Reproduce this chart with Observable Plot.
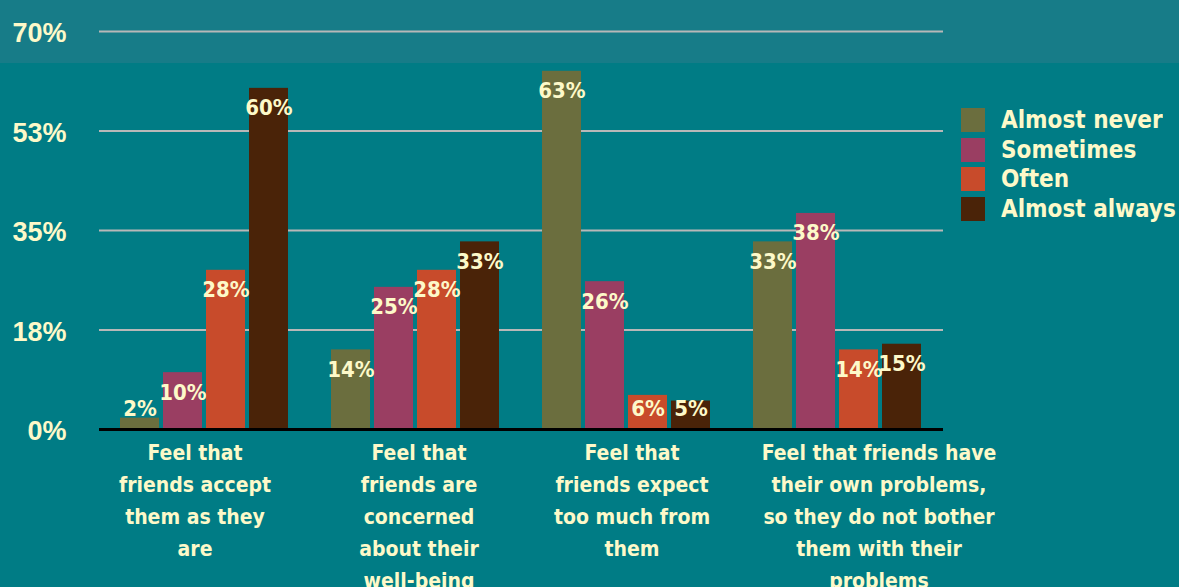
<!DOCTYPE html>
<html><head><meta charset="utf-8">
<script src="https://cdn.jsdelivr.net/npm/d3@7"></script>
<script src="https://cdn.jsdelivr.net/npm/@observablehq/plot@0.6"></script>
<style>
html,body{margin:0;padding:0;}
body{width:1179px;height:587px;overflow:hidden;background:linear-gradient(#177c88 0,#177c88 63px,#007c85 63px);position:relative;}
#chart{position:absolute;left:0;top:0;}
#legend{position:absolute;left:961px;top:105px;}
#legend *{font-family:"DejaVu Sans Condensed","DejaVu Sans",sans-serif !important;font-stretch:condensed;font-weight:bold !important;font-size:24px !important;color:#fdf9c9 !important;}
#legend .lg-swatch{height:29.7px;padding-bottom:0 !important;margin:0 !important;display:flex;align-items:center;}
#legend .lg-swatch svg{margin-right:16px !important;}
#legend > div{margin:0 !important;columns:auto !important;}
</style></head><body><div id="chart"></div><div id="legend"></div>
<script>
const categories = [
  "Feel that\nfriends accept\nthem as they\nare",
  "Feel that\nfriends are\nconcerned\nabout their\nwell-being",
  "Feel that\nfriends expect\ntoo much from\nthem",
  "Feel that friends have\ntheir own problems,\nso they do not bother\nthem with their\nproblems"
];
const series = ["Almost never", "Sometimes", "Often", "Almost always"];
const almostNever = [2, 14, 63, 33];
const sometimes = [10, 25, 26, 38];
const often = [28, 28, 6, 14];
const almostAlways = [60, 33, 5, 15];
const colors = ["#6b6e3e", "#9a3e62", "#c84b2b", "#4a2308"];
const yTicks = [0, 17.5, 35, 52.5, 70];

const seriesValues = [almostNever, sometimes, often, almostAlways];
const data = categories.flatMap((c, i) => series.map((s, j) => ({category: c, series: s, value: seriesValues[j][i]})));
const cream = "#fdf9c9";
const font = "DejaVu Sans Condensed, DejaVu Sans, sans-serif";
const labelShift = [-10, 3, 5, 41];

const plot = Plot.plot({
  width: 1179, height: 587,
  marginLeft: 97, marginRight: 235, marginTop: 31, marginBottom: 158,
  style: {background: "transparent", color: cream, fontFamily: font, fontStretch: "condensed", overflow: "visible"},
  fx: {domain: categories, padding: 0, label: null, axis: null},
  x: {domain: series, paddingInner: 0.09, paddingOuter: 0.48, axis: null},
  y: {domain: [0, 70], axis: null},
  color: {domain: series, range: colors},
  marks: [
    Plot.gridY(yTicks, {stroke: "#b8b8b8", strokeOpacity: 1, strokeWidth: 2}),
    Plot.axisY(yTicks, {tickFormat: d => Math.round(d) + "%", tickSize: 0, tickPadding: 33, fontSize: 27, fontWeight: "bold", fontFamily: "Liberation Sans, Arial, sans-serif", fontStretch: "normal", dy: 2, label: null}),
    Plot.barY(data, {fx: "category", x: "series", y: "value", fill: "series"}),
    Plot.ruleY([0], {stroke: "black", strokeWidth: 3}),
    Plot.text(data, {fx: "category", x: "series", y: d => Math.max(d.value - 3.5, 3.7), text: d => d.value + "%", fill: cream, fontSize: 22, fontWeight: "bold"}),
    ...categories.map((c, i) => Plot.text([c], {fx: d => d, text: d => d, frameAnchor: "bottom", lineAnchor: "top", dy: 8, dx: labelShift[i], fontSize: 21, fontWeight: "bold", lineHeight: 1.52, fill: cream}))
  ]
});
document.getElementById("chart").appendChild(plot);
const leg = plot.legend("color", {legend: "swatches", columns: 1, swatchSize: 24, className: "lg"});
document.getElementById("legend").appendChild(leg);
</script>
</body></html>
